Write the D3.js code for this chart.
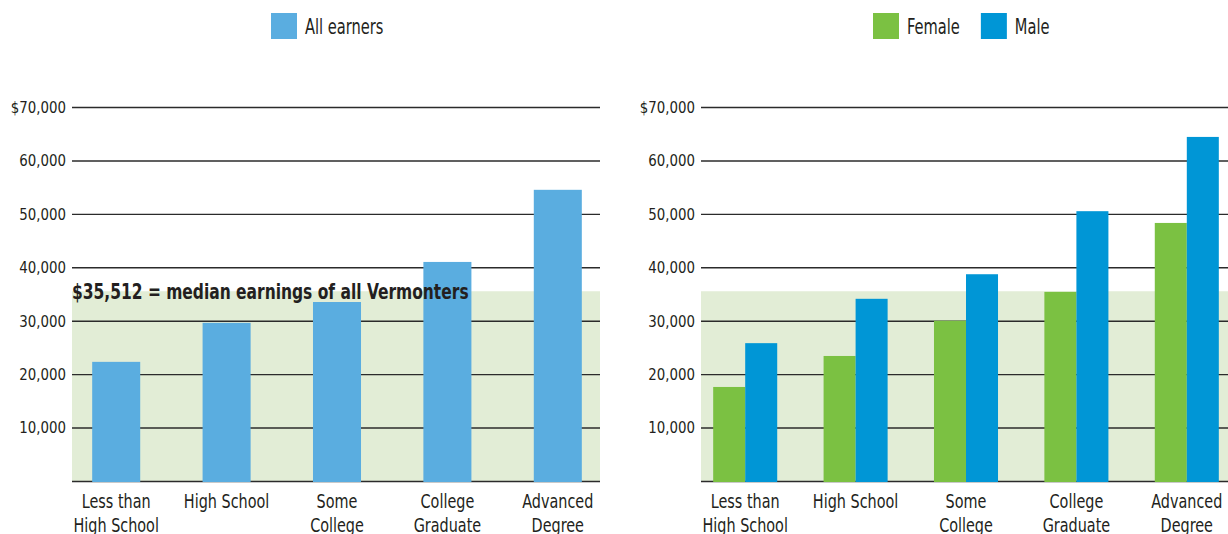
<!DOCTYPE html>
<html>
<head>
<meta charset="utf-8">
<script src="https://cdn.jsdelivr.net/npm/d3@7"></script>
<style>
  body { margin: 0; background: #fff; }
  svg text { font-family: "DejaVu Sans Condensed", "Liberation Sans Narrow", "Roboto", sans-serif; fill: #231f20; }
</style>
</head>
<body>
<div id="chart"></div>
<script>
// chart values
const categories = [["Less than", "High School"], ["High School"], ["Some", "College"], ["College", "Graduate"], ["Advanced", "Degree"]];
const allEarners = [22300, 29600, 33500, 41000, 54500];
const female = [17600, 23400, 30000, 35400, 48300];
const male = [25800, 34100, 38700, 50500, 64400];
const yTicks = [0, 10000, 20000, 30000, 40000, 50000, 60000, 70000];
const medianEarnings = 35512;

const width = 1228;
const height = 534;

const svg = d3.select("#chart").append("svg")
  .attr("width", width)
  .attr("height", height);

// shared layout for one panel (right panel is the same shifted over)
const plotLeft = 72, plotRight = 600;
const y = d3.scaleLinear().domain([0, 70000]).range([481, 107]);
const x = d3.scaleBand().domain(d3.range(categories.length)).range([61, 613]);

// squeeze text horizontally so the font looks like a condensed face
function narrow(text, cx, cy, sx) {
  text.attr("x", cx / sx).attr("y", cy)
    .attr("transform", `scale(${sx},1)`);
  return text;
}

function drawPanel(g, series, legendStart, annotate) {
  // green band up to the median
  g.append("rect")
    .attr("x", plotLeft)
    .attr("y", y(medianEarnings))
    .attr("width", plotRight - plotLeft)
    .attr("height", y(0) - y(medianEarnings))
    .attr("fill", "#e2edd6");

  // gridlines + y labels
  const axis = d3.axisLeft(y)
    .tickValues(yTicks)
    .tickSizeInner(-(plotRight - plotLeft))
    .tickSizeOuter(0)
    .tickPadding(6)
    .tickFormat(d => d === 0 ? "" : (d === 70000 ? "$" : "") + d3.format(",")(d));

  const ax = g.append("g")
    .attr("transform", `translate(${plotLeft},0)`)
    .call(axis);
  ax.select(".domain").remove();
  ax.selectAll(".tick line").attr("stroke", "#2b2b2b").attr("stroke-width", 1.4);
  ax.selectAll(".tick text")
    .attr("font-size", 16.5)
    .attr("fill", "#231f20")
    .attr("font-family", null)
    .attr("x", -6 / 0.9)
    .attr("transform", "scale(0.9,1)");

  // bars
  const groupWidth = x.bandwidth() * (series.length === 1 ? 0.435 : 0.58);
  const sub = d3.scaleBand().domain(d3.range(series.length)).range([0, groupWidth]);

  series.forEach((s, si) => {
    g.append("g")
      .selectAll("rect")
      .data(s.values)
      .join("rect")
      .attr("x", (d, i) => x(i) + x.bandwidth() / 2 - groupWidth / 2 + sub(si))
      .attr("y", d => y(d))
      .attr("width", sub.bandwidth())
      .attr("height", d => y(0) - y(d) + 1)
      .attr("fill", s.color);
  });

  // category labels
  const catSx = 0.8;
  const labels = g.append("g")
    .selectAll("text")
    .data(categories)
    .join("text")
    .attr("text-anchor", "middle")
    .attr("font-size", 20)
    .each(function (d, i) { narrow(d3.select(this), x(i) + x.bandwidth() / 2, 508, catSx); });
  labels.selectAll("tspan")
    .data(d => d)
    .join("tspan")
    .attr("x", function () { return d3.select(this.parentNode).attr("x"); })
    .attr("dy", (d, i) => i === 0 ? 0 : 24)
    .text(d => d);

  // legend
  const legSx = 0.74;
  let lx = legendStart;
  series.forEach(s => {
    g.append("rect")
      .attr("x", lx).attr("y", 13)
      .attr("width", 26).attr("height", 26)
      .attr("fill", s.color);
    const t = narrow(g.append("text"), lx + 34, 34, legSx)
      .attr("font-size", 22)
      .attr("fill", "#333")
      .text(s.name);
    lx += 34 + t.node().getComputedTextLength() * legSx + 21;
  });

  if (annotate) {
    narrow(g.append("text"), plotLeft, 299, 0.82)
      .attr("font-size", 21)
      .attr("font-weight", "bold")
      .attr("fill", "#000")
      .text("$35,512 = median earnings of all Vermonters");
  }
}

drawPanel(svg.append("g"),
  [{ name: "All earners", values: allEarners, color: "#5aade0" }], 271, true);

drawPanel(svg.append("g").attr("transform", "translate(629,0)"),
  [{ name: "Female", values: female, color: "#7bc142" },
   { name: "Male", values: male, color: "#0096d6" }], 244, false);
</script>
</body>
</html>
